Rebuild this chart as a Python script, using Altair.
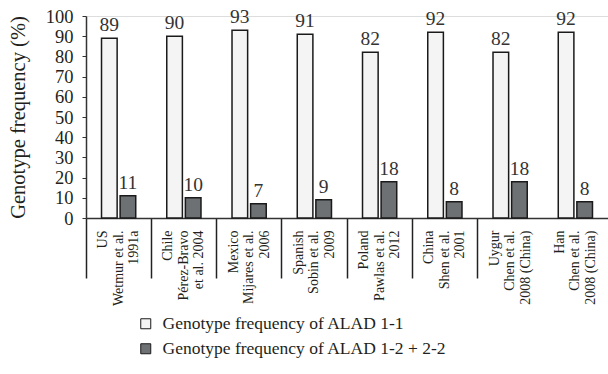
import altair as alt
import pandas as pd

categories = [
    "US|Wetmur et al.|1991a",
    "Chile|Pérez-Bravo|et al. 2004",
    "Mexico|Mijares et al.|2006",
    "Spanish|Sobin et al.|2009",
    "Poland|Pawlas et al.|2012",
    "China|Shen et al.|2001",
    "Uygur|Chen et al.|2008 (China)",
    "Han|Chen et al.|2008 (China)",
]
series = ["Genotype frequency of ALAD 1-1", "Genotype frequency of ALAD 1-2 + 2-2"]
alad11 = [89, 90, 93, 91, 82, 92, 82, 92]
alad12 = [11, 10, 7, 9, 18, 8, 18, 8]

rows = []
for c, a, b in zip(categories, alad11, alad12):
    rows.append({"cat": c, "series": series[0], "value": a})
    rows.append({"cat": c, "series": series[1], "value": b})
df = pd.DataFrame(rows)

FONT = "'Liberation Serif', 'Times New Roman', Tinos, serif"
TXT = "#231f20"

x = alt.X(
    "cat:N",
    sort=categories,
    scale=alt.Scale(paddingInner=0, paddingOuter=0),
    axis=alt.Axis(
        title=None,
        bandPosition=0,
        tickSize=60,
        tickWidth=1.5,
        tickColor={"condition": {"test": "datum.value == '" + categories[-1] + "'", "value": "transparent"}, "value": "#222"},
        domainColor="#333",
        domainWidth=1.5,
        labelAngle=270,
        labelAlign="right",
        labelBaseline="middle",
        labelPadding=-48,
        labelOffset=-15.5,
        labelExpr="split(datum.label, '|')",
        labelFont=FONT,
        labelFontSize=14,
        labelLineHeight=15.5,
        labelColor=TXT,
    ),
)
xoff = alt.XOffset("series:N", sort=series, scale=alt.Scale(paddingInner=0.16, paddingOuter=0.834))
y = alt.Y(
    "value:Q",
    scale=alt.Scale(domain=[0, 100]),
    axis=alt.Axis(
        title="Genotype frequency (%)",
        values=list(range(0, 101, 10)),
        tickSize=4,
        tickColor="#333",
        domainColor="#333",
        domainWidth=1.5,
        grid=False,
        labelFont=FONT,
        labelFontSize=18.5,
        labelColor=TXT,
        labelPadding=9,
        titleFont=FONT,
        titleFontSize=20.5,
        titleFontWeight="normal",
        titleColor=TXT,
        titlePadding=17,
    ),
)

bars = alt.Chart(df).mark_bar(stroke="#1a1a1a", strokeWidth=1.5).encode(
    x=x,
    xOffset=xoff,
    y=y,
    color=alt.Color(
        "series:N",
        sort=series,
        scale=alt.Scale(domain=series, range=["#f4f4f4", "#6e7173"]),
        legend=alt.Legend(
            title=None,
            orient="none",
            legendX=51,
            legendY=299,
            symbolType="square",
            symbolSize=100,
            symbolStrokeColor="#1a1a1a",
            symbolStrokeWidth=1,
            labelFont=FONT,
            labelFontSize=17.5,
            labelColor=TXT,
            labelOffset=8,
            rowPadding=6,
            padding=0,
            labelLimit=400,
        ),
    ),
)

labels = alt.Chart(df).mark_text(
    baseline="alphabetic", dy=-7, font=FONT, fontSize=19.5, color="#333"
).encode(x=x, xOffset=xoff, y=y, text="value:Q")

chart = (
    alt.layer(bars, labels)
    .properties(
        width=522,
        height=202,
        autosize=alt.AutoSizeParams(type="none"),
        padding={"left": 86, "top": 16, "right": 0, "bottom": 156},
    )
    .configure_view(stroke=None)
    .configure(background="white")
)

chart.save("out.html", embed_options={"renderer": "svg", "actions": False})
